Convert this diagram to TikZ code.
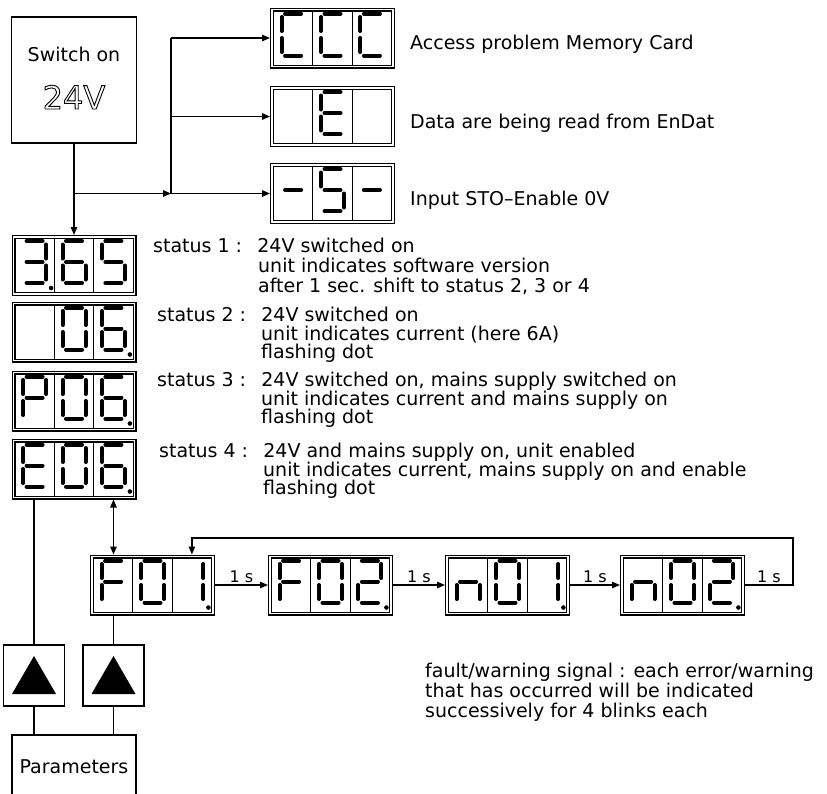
\documentclass[tikz,border=0pt]{standalone}
\usepackage{fontspec}
\setmainfont{DejaVu Sans}
\usetikzlibrary{arrows.meta}
% segment lists of the seven-segment characters (0=a ... 6=g, 7=blank)
\def\chC{0,3,4,5}
\def\chE{0,3,4,5,6}
\def\chDash{6}
\def\chS{0,2,3,5,6}
\def\chFive{0,2,3,5,6}
\def\chThree{0,1,2,3,6}
\def\chSix{0,2,3,4,5,6}
\def\chZero{0,1,2,3,4,5}
\def\chP{0,1,4,5,6}
\def\chF{0,4,5,6}
\def\chOne{1,2}
\def\chTwo{0,1,3,4,6}
\def\chN{2,4,6}
\def\chBlank{7}
\newcommand\dispseg[1]{%
  \ifcase#1
    \draw[seg line] (-8,-21) -- (8,-21);\or
    \draw[seg line] (11.5,-17.5) -- (11.5,-3.5);\or
    \draw[seg line] (11.5,3.5) -- (11.5,17.5);\or
    \draw[seg line] (-8,21) -- (8,21);\or
    \draw[seg line] (-11.5,3.5) -- (-11.5,17.5);\or
    \draw[seg line] (-11.5,-17.5) -- (-11.5,-3.5);\or
    \draw[seg line] (-8,0) -- (8,0);\fi}
\tikzset{
  every picture/.style={font=\fontsize{19}{22}\selectfont},
  plain box/.style={draw, line width=1.3pt, minimum width=125pt,
    minimum height=126pt, inner sep=0pt},
  disp box/.style={draw, double, double distance=1.6pt, line width=1.2pt,
    minimum width=121pt, minimum height=57pt, inner sep=0pt, outer sep=2pt},
  disp div/.style={line width=1pt},
  seg line/.style={line width=4pt, line cap=round},
  link/.style={line width=1.3pt},
  link arrow/.style={link, -{Triangle[length=8pt,width=6.5pt]}},
  link both/.style={link, {Triangle[length=8pt,width=6.5pt]}-{Triangle[length=8pt,width=6.5pt]}},
  key box/.style={draw, line width=1.3pt, minimum width=61pt,
    minimum height=61pt, inner sep=0pt},
  msg/.style={anchor=base west, inner sep=0pt},
  tick label/.style={font=\fontsize{16}{18}\selectfont, above, inner sep=1.5pt},
  pics/digit/.style={code={\foreach \k in #1 {\dispseg{\k}}}},
  pics/display/.style n args={4}{code={
    \node[disp box] (-box) at (0,0) {};
    \draw[disp div] (-19.7,-27.1) -- (-19.7,27.1);
    \draw[disp div] (19.7,-27.1) -- (19.7,27.1);
    \pic at (-39.4,-3.5) {digit=#1};
    \pic at (0,-3.5) {digit=#2};
    \pic at (39.4,-3.5) {digit=#3};
    \ifcase#4\or
      \fill (-22.9,22.5) circle (2.3);\or
      \fill (16.5,22.5) circle (2.3);\or
      \fill (55.9,22.5) circle (2.3);\fi
  }}
}
\begin{document}
\begin{tikzpicture}[x=1pt,y=-1pt]
  \useasboundingbox (0,0) rectangle (827,793);
  % switch on
  \node[plain box] (sw) at (74,80) {};
  \node[anchor=base] (swtext) at (74,61) {Switch on};
  \node[anchor=base, font=\fontsize{32}{34}\selectfont] (swvolt) at (74,109)
    {\special{pdf:literal direct 1 Tr 0.9 w}24V\special{pdf:literal direct 0 Tr}};
  % messages at start
  \pic (ccc) at (332.5,38) {display={\chC}{\chC}{\chC}{0}};
  \pic (enc) at (332.5,116.5) {display={\chBlank}{\chE}{\chBlank}{0}};
  \pic (sto) at (332.5,193.5) {display={\chDash}{\chS}{\chDash}{0}};
  \node[msg] (ccctext) at (410,49) {Access problem Memory Card};
  \node[msg] (enctext) at (410,128) {Data are being read from EnDat};
  \node[msg] (stotext) at (410,205) {Input STO--Enable 0V};
  \coordinate (jn) at (171,193.5);
  \draw[link] (jn |- ccc-box.west) -- (jn);
  \draw[link arrow] (sw.south |- jn) -- (jn);
  \draw[link arrow] (jn |- ccc-box.west) -- (ccc-box.west);
  \draw[link arrow] (jn |- enc-box.west) -- (enc-box.west);
  \draw[link arrow] (jn) -- (sto-box.west);
  % status 1..4
  \pic (st1) at (74,265.5) {display={\chThree}{\chSix}{\chFive}{1}};
  \pic (st2) at (74,332) {display={\chBlank}{\chZero}{\chSix}{3}};
  \pic (st3) at (74,401) {display={\chP}{\chZero}{\chSix}{3}};
  \pic (st4) at (74,469) {display={\chE}{\chZero}{\chSix}{3}};
  \draw[link arrow] (sw.south) -- (st1-box.north);
  \node[msg] (s1a) at (153,252) {status 1 :\hspace{0.8em}24V switched on};
  \node[msg] (s1b) at (258,272) {unit indicates software version};
  \node[msg] (s1c) at (258,292) {after 1 sec. shift to status 2, 3 or 4};
  \node[msg] (s2a) at (157,321) {status 2 :\hspace{0.8em}24V switched on};
  \node[msg] (s2b) at (261,340) {unit indicates current (here 6A)};
  \node[msg] (s2c) at (261,358) {flashing dot};
  \node[msg] (s3a) at (157,386) {status 3 :\hspace{0.8em}24V switched on, mains supply switched on};
  \node[msg] (s3b) at (261,405) {unit indicates current and mains supply on};
  \node[msg] (s3c) at (261,423) {flashing dot};
  \node[msg] (s4a) at (159,457) {status 4 :\hspace{0.8em}24V and mains supply on, unit enabled};
  \node[msg] (s4b) at (263,476) {unit indicates current, mains supply on and enable};
  \node[msg] (s4c) at (263,494) {flashing dot};
  % fault / warning loop
  \pic (f01) at (152.5,585) {display={\chF}{\chZero}{\chOne}{3}};
  \pic (f02) at (330.5,585) {display={\chF}{\chZero}{\chTwo}{3}};
  \pic (n01) at (507.5,585) {display={\chN}{\chZero}{\chOne}{3}};
  \pic (n02) at (682.5,585) {display={\chN}{\chZero}{\chTwo}{3}};
  \draw[link arrow] (f01-box.east) -- node[tick label] (t1) {1 s} (f02-box.west);
  \draw[link arrow] (f02-box.east) -- node[tick label] (t2) {1 s} (n01-box.west);
  \draw[link arrow] (n01-box.east) -- node[tick label] (t3) {1 s} (n02-box.west);
  \coordinate (loop) at (793,538);
  \coordinate (f01top) at ([xshift=39.4pt]f01-box.north);
  \draw[link arrow] (n02-box.east) -- node[tick label] (t4) {1 s} (n02-box.east -| loop)
    -- (loop) -- (loop -| f01top) -- (f01top);
  \node[msg] (flt1) at (425,677) {fault/warning signal : each error/warning};
  \node[msg] (flt2) at (425,697) {that has occurred will be indicated};
  \node[msg] (flt3) at (425,717) {successively for 4 blinks each};
  % keys and parameters
  \node[key box] (up1) at (34,675.5) {};
  \node[key box] (up2) at (113.5,675.5) {};
  \fill (up1.center) ++(0,-19.5) -- ++(22,38) -- ++(-44,0) -- cycle;
  \fill (up2.center) ++(0,-19.5) -- ++(22,38) -- ++(-44,0) -- cycle;
  \draw[link both] (up2.north |- st4-box.south) -- (up2.north |- f01-box.north);
  \draw[link] (up1.north |- st4-box.south) -- (up1.north);
  \draw[link] (up2.north |- f01-box.south) -- (up2.north);
  \node[draw, line width=1.3pt, minimum width=124pt, minimum height=64pt,
    inner sep=0pt] (par) at (74,767) {Parameters};
  \draw[link] (up1.south) -- (up1.south |- par.north);
  \draw[link] (up2.south) -- (up2.south |- par.north);
\end{tikzpicture}
\end{document}
